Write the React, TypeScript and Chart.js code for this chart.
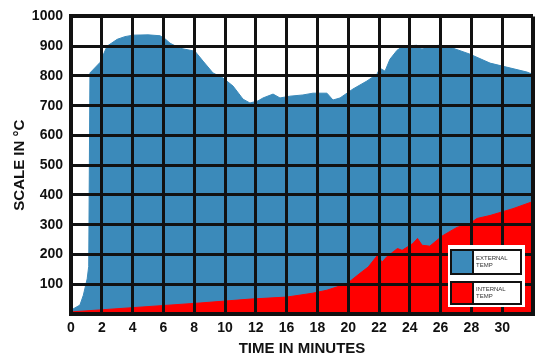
import React, { useEffect, useRef } from "react";
import { Chart, registerables } from "chart.js";

Chart.register(...registerables);

// Grid positions along the time axis (each grid column = 2 units)
const X_TICK_LABELS = ["0", "2", "4", "6", "8", "10", "12", "16", "18", "20", "22", "24", "26", "28", "30", ""];

const EXTERNAL_TIME = [0, 0.58, 0.8, 1.05, 1.15, 1.23, 1.88, 2.34, 3.0, 3.5, 4.03, 5.0, 5.78, 6.1, 6.43, 7.08, 8.05, 8.57, 9.22, 9.87, 10.52, 11.17, 11.62, 12.14, 12.47, 13.12, 13.57, 14.22, 15.06, 15.71, 16.62, 17.01, 17.47, 18.31, 19.22, 19.87, 20.06, 20.39, 20.71, 21.17, 21.56, 22.47, 22.79, 23.12, 23.96, 24.81, 25.91, 27.21, 29.61, 30];
const EXTERNAL_TEMP = [13, 30, 63, 118, 160, 810, 845, 900, 923, 932, 937, 938, 935, 925, 910, 893, 883, 850, 810, 793, 766, 722, 709, 716, 726, 739, 726, 732, 736, 742, 742, 719, 726, 756, 783, 806, 826, 816, 856, 886, 900, 903, 890, 900, 903, 893, 873, 843, 813, 805];

const INTERNAL_TIME = [0, 8.38, 11.62, 14.03, 15.71, 16.62, 17.92, 18.77, 19.3, 19.9, 20.2, 20.5, 21.2, 21.5, 22.2, 22.5, 22.8, 23.3, 24.1, 25.06, 25.91, 26.36, 27.21, 28.7, 30];
const INTERNAL_TEMP = [7, 37, 50, 57, 70, 80, 102, 137, 158, 197, 174, 192, 220, 214, 237, 254, 231, 228, 262, 291, 304, 321, 331, 354, 378];

const LEGEND_LABELS = [["EXTERNAL", "TEMP"], ["INTERNAL", "TEMP"]];
const BLUE = "#3B8ABA";
const RED = "#FF0000";
const FONT = "'Liberation Sans', Arial, sans-serif";

const legendPlugin = {
  id: "boxLegend",
  afterDraw(chart: any) {
    const { ctx, chartArea } = chart;
    const x0 = chartArea.right - 85;
    const y0 = chartArea.bottom - 69;
    ctx.save();
    ctx.fillStyle = "#ffffff";
    ctx.fillRect(x0, y0, 77, 62);
    const colors = [BLUE, RED];
    const tops = [y0 + 5, y0 + 37];
    const heights = [24, 22];
    for (let i = 0; i < 2; i++) {
      const ex = x0 + 3;
      const ey = tops[i];
      const ew = 70;
      const eh = heights[i];
      ctx.fillStyle = colors[i];
      ctx.fillRect(ex, ey, 22, eh);
      ctx.strokeStyle = "#111";
      ctx.lineWidth = 2;
      ctx.strokeRect(ex, ey, ew, eh);
      ctx.beginPath();
      ctx.moveTo(ex + 22, ey);
      ctx.lineTo(ex + 22, ey + eh);
      ctx.stroke();
      ctx.fillStyle = "#333";
      ctx.font = `6px ${FONT}`;
      ctx.textBaseline = "middle";
      ctx.textAlign = "left";
      ctx.fillText(LEGEND_LABELS[i][0], ex + 25, ey + eh / 2 - 4);
      ctx.fillText(LEGEND_LABELS[i][1], ex + 25, ey + eh / 2 + 3);
    }
    ctx.restore();
  },
};

export default function App() {
  const ref = useRef<HTMLCanvasElement>(null);
  useEffect(() => {
    if (!ref.current) return;
    const chart = new Chart(ref.current, {
      type: "line",
      data: {
        datasets: [
          {
            label: "EXTERNAL TEMP",
            data: EXTERNAL_TIME.map((t, i) => ({ x: t, y: EXTERNAL_TEMP[i] })),
            backgroundColor: BLUE,
            borderColor: BLUE,
            borderWidth: 1,
            pointRadius: 0,
            fill: "origin",
            tension: 0,
            order: 1,
          },
          {
            label: "INTERNAL TEMP",
            data: INTERNAL_TIME.map((t, i) => ({ x: t, y: INTERNAL_TEMP[i] })),
            backgroundColor: RED,
            borderColor: RED,
            borderWidth: 1,
            pointRadius: 0,
            fill: "origin",
            tension: 0,
            order: 0,
          },
        ],
      },
      options: {
        animation: false,
        responsive: true,
        maintainAspectRatio: false,
        layout: { padding: { top: 15, right: 6, left: 0, bottom: 0 } },
        plugins: { legend: { display: false }, tooltip: { enabled: false } },
        scales: {
          x: {
            type: "linear",
            min: 0,
            max: 30,
            afterFit: (s: any) => { s.height = 42; },
            grid: {
              color: "#111",
              lineWidth: (c: any) => (c.tick && c.tick.value === 30 ? 4 : 3),
              drawTicks: false,
              z: 1,
            },
            border: { display: true, color: "#111", width: 4, z: 1 },
            ticks: {
              stepSize: 2,
              autoSkip: false,
              maxRotation: 0,
              padding: 6,
              color: "#111",
              font: { family: FONT, size: 14, weight: "bold" },
              callback: (v: any) => X_TICK_LABELS[Math.round(Number(v) / 2)] ?? "",
            },
            title: {
              display: true,
              text: "TIME IN MINUTES",
              color: "#111",
              font: { family: FONT, size: 15, weight: "bold", lineHeight: 1 },
              padding: { top: 0, bottom: 0 },
            },
          },
          y: {
            min: 0,
            max: 1000,
            afterFit: (s: any) => { s.width = 71; },
            grid: {
              color: "#111",
              lineWidth: (c: any) => (c.tick && c.tick.value === 1000 ? 4 : 3),
              drawTicks: false,
              z: 1,
            },
            border: { display: true, color: "#111", width: 4, z: 1 },
            ticks: {
              stepSize: 100,
              padding: 8,
              color: "#111",
              font: { family: FONT, size: 14, weight: "bold" },
              callback: (v: any) => (Number(v) === 0 ? "" : String(v)),
            },
            title: {
              display: true,
              text: "SCALE IN °C",
              color: "#111",
              font: { family: FONT, size: 15, weight: "bold", lineHeight: 1 },
              padding: { top: 12, bottom: 0 },
            },
          },
        },
      },
      plugins: [legendPlugin],
    });
    return () => chart.destroy();
  }, []);
  return (
    <div style={{ position: "fixed", left: 0, top: 0, width: 539, height: 356, background: "#fff" }}>
      <canvas ref={ref} />
    </div>
  );
}
